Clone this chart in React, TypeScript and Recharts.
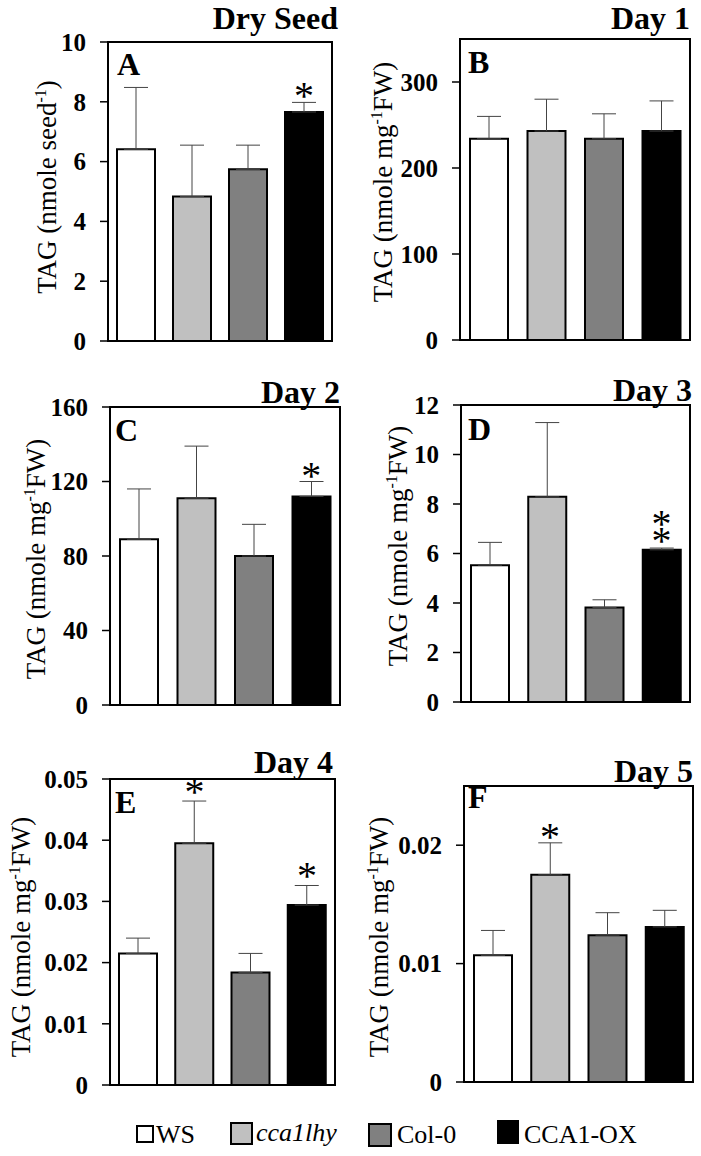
import React from "react";
import { BarChart, Bar, XAxis, YAxis, Cell, ErrorBar, ReferenceArea, ReferenceDot } from "recharts";

const FONT = "'Liberation Serif', 'Times New Roman', Times, serif";

const categories = ["WS", "cca1lhy", "Col-0", "CCA1-OX"];
const fills = ["#ffffff", "#c0c0c0", "#808080", "#000000"];

const dryMean = [6.41, 4.83, 5.74, 7.66];
const drySd = [2.07, 1.72, 0.81, 0.32];
const dryStars = [0, 0, 0, 1];
const dryTicks = [0, 2, 4, 6, 8, 10];

const day1Mean = [234, 243, 234, 243];
const day1Sd = [26, 37, 29, 35];
const day1Stars = [0, 0, 0, 0];
const day1Ticks = [0, 100, 200, 300];

const day2Mean = [89, 111, 80, 112];
const day2Sd = [27, 28, 17, 8];
const day2Stars = [0, 0, 0, 1];
const day2Ticks = [0, 40, 80, 120, 160];

const day3Mean = [5.53, 8.29, 3.82, 6.15];
const day3Sd = [0.92, 3.0, 0.31, 0.07];
const day3Stars = [0, 0, 0, 2];
const day3Ticks = [0, 2, 4, 6, 8, 10, 12];

const day4Mean = [0.0215, 0.0395, 0.0184, 0.0294];
const day4Sd = [0.0025, 0.0069, 0.0031, 0.0032];
const day4Stars = [0, 1, 0, 1];
const day4Ticks = [0, 0.01, 0.02, 0.03, 0.04, 0.05];

const day5Mean = [0.0107, 0.0175, 0.0124, 0.0131];
const day5Sd = [0.0021, 0.0027, 0.0019, 0.0014];
const day5Stars = [0, 1, 0, 0];
const day5Ticks = [0, 0.01, 0.02];

const titles = ["Dry Seed", "Day 1", "Day 2", "Day 3", "Day 4", "Day 5"];
const letters = ["A", "B", "C", "D", "E", "F"];

type Panel = {
  mean: number[]; sd: number[]; stars: number[]; ticks: number[]; max: number;
  seed: boolean;
  left: number; top: number; w: number; h: number;
  margin: { top: number; right: number; bottom: number; left: number };
  yw: number; titleX: number; titleY: number; letterX: number; letterY: number;
  labelX: number; labelY: number; starGap: number;
};

const panels: Panel[] = [
  { mean: dryMean, sd: drySd, stars: dryStars, ticks: dryTicks, max: 10, seed: true,
    left: 0, top: 0, w: 350, h: 360, margin: { top: 42, right: 18, bottom: 19, left: 0 }, yw: 108,
    titleX: 338, titleY: 29, letterX: 117, letterY: 75, labelX: 56, labelY: 187, starGap: -7 },
  { mean: day1Mean, sd: day1Sd, stars: day1Stars, ticks: day1Ticks, max: 350, seed: false,
    left: 350, top: 0, w: 351, h: 360, margin: { top: 39, right: 11, bottom: 20, left: 0 }, yw: 110,
    titleX: 340, titleY: 29, letterX: 118, letterY: 73, labelX: 42, labelY: 182, starGap: 0 },
  { mean: day2Mean, sd: day2Sd, stars: day2Stars, ticks: day2Ticks, max: 160, seed: false,
    left: 0, top: 360, w: 350, h: 380, margin: { top: 47, right: 10, bottom: 35, left: 0 }, yw: 110,
    titleX: 340, titleY: 43, letterX: 115, letterY: 81, labelX: 45, labelY: 199, starGap: -7 },
  { mean: day3Mean, sd: day3Sd, stars: day3Stars, ticks: day3Ticks, max: 12, seed: false,
    left: 350, top: 360, w: 351, h: 380, margin: { top: 45, right: 11, bottom: 38, left: 0 }, yw: 111,
    titleX: 342, titleY: 41, letterX: 118, letterY: 80, labelX: 57, labelY: 186, starGap: -6 },
  { mean: day4Mean, sd: day4Sd, stars: day4Stars, ticks: day4Ticks, max: 0.05, seed: false,
    left: 0, top: 740, w: 350, h: 380, margin: { top: 39, right: 15, bottom: 35, left: 0 }, yw: 110,
    titleX: 333, titleY: 33, letterX: 115, letterY: 73, labelX: 30, labelY: 197, starGap: -4 },
  { mean: day5Mean, sd: day5Sd, stars: day5Stars, ticks: day5Ticks, max: 0.025, seed: false,
    left: 350, top: 740, w: 351, h: 380, margin: { top: 46, right: 8, bottom: 38, left: 0 }, yw: 114,
    titleX: 343, titleY: 42, letterX: 118, letterY: 68, labelX: 38, labelY: 197, starGap: -7 },
];

const StarMark = (props: any) => {
  const vb = props.viewBox || {};
  const cx = (vb.x ?? 0) + (vb.width ?? 0) / 2;
  const cy = (vb.y ?? 0) + (vb.height ?? 0) / 2;
  const gap = props.gap || 0;
  const level = props.level || 0;
  return (
    <text x={cx} y={cy - gap - level * 17} textAnchor="middle" fontFamily={FONT} fontSize={40} fill="#000">*</text>
  );
};

function PanelChart({ p, idx }: { p: Panel; idx: number }) {
  const data = categories.map((c, i) => ({ name: c, v: p.mean[i], err: [0, p.sd[i]] }));
  const starDots: React.ReactNode[] = [];
  p.stars.forEach((s, i) => {
    for (let k = 0; k < s; k++) {
      starDots.push(
        <ReferenceDot
          key={"s" + i + "-" + k}
          x={categories[i]}
          y={p.mean[i] + p.sd[i]}
          r={1}
          fill="none"
          stroke="none"
          label={<StarMark gap={p.starGap} level={k} />}
        />
      );
    }
  });
  return (
    <div style={{ position: "absolute", left: p.left, top: p.top, width: p.w, height: p.h, fontFamily: FONT }}>
      <BarChart width={p.w} height={p.h} data={data} margin={p.margin}>
        <XAxis dataKey="name" hide />
        <YAxis
          width={p.yw}
          domain={[0, p.max]}
          ticks={p.ticks}
          interval={0}
          axisLine={false}
          tickLine={{ stroke: "#000", strokeWidth: 1.5 }}
          tickSize={8}
          tickMargin={14}
          allowDataOverflow
          tick={{ fontSize: 25, fontWeight: "bold", fill: "#000", fontFamily: FONT }}
        />
        <Bar dataKey="v" barSize={38} stroke="#000" strokeWidth={2} isAnimationActive={false}>
          {data.map((d, i) => (
            <Cell key={d.name} fill={fills[i]} />
          ))}
          <ErrorBar dataKey="err" width={12} stroke="#444" strokeWidth={1} direction="y" isAnimationActive={false} />
        </Bar>
        <ReferenceArea y1={0} y2={p.max} fill="none" stroke="#000" strokeWidth={2} fillOpacity={0} />
        {starDots}
      </BarChart>
      <svg width={p.w} height={p.h} style={{ position: "absolute", left: 0, top: 0, pointerEvents: "none" }}>
        <text x={p.titleX} y={p.titleY} textAnchor="end" fontFamily={FONT} fontWeight="bold" fontSize={32} fill="#000">
          {titles[idx]}
        </text>
        <text x={p.letterX} y={p.letterY} fontFamily={FONT} fontWeight="bold" fontSize={32} fill="#000">
          {letters[idx]}
        </text>
        <text
          x={p.labelX}
          y={p.labelY}
          transform={`rotate(-90, ${p.labelX}, ${p.labelY})`}
          textAnchor="middle"
          fontFamily={FONT}
          fontSize={27}
          fill="#000"
        >
          {p.seed ? (
            <>
              <tspan>TAG (nmole seed</tspan>
              <tspan fontSize={16} dy={-10}>-1</tspan>
              <tspan dy={10}>)</tspan>
            </>
          ) : (
            <>
              <tspan>TAG (nmole mg</tspan>
              <tspan fontSize={16} dy={-10}>-1</tspan>
              <tspan dy={10}>FW)</tspan>
            </>
          )}
        </text>
      </svg>
    </div>
  );
}

const legendBoxes = [
  { x: 137, y: 1126, w: 16, h: 16 },
  { x: 231, y: 1123, w: 21, h: 21 },
  { x: 369, y: 1124, w: 22, h: 22 },
  { x: 498, y: 1121, w: 20, h: 22 },
];
const legendText = [
  { x: 156, y: 1143 },
  { x: 256, y: 1141 },
  { x: 397, y: 1143 },
  { x: 524, y: 1143 },
];

function Legend() {
  return (
    <svg width={701} height={1156} style={{ position: "absolute", left: 0, top: 0, pointerEvents: "none" }}>
      {categories.map((c, i) => (
        <g key={c}>
          <rect x={legendBoxes[i].x} y={legendBoxes[i].y} width={legendBoxes[i].w} height={legendBoxes[i].h}
            fill={fills[i]} stroke="#000" strokeWidth={2} />
          <text x={legendText[i].x} y={legendText[i].y} fontFamily={FONT} fontSize={26}
            fontStyle={i === 1 ? "italic" : "normal"} fill="#000">{c}</text>
        </g>
      ))}
    </svg>
  );
}

export default function App() {
  return (
    <div style={{ position: "absolute", left: 0, top: 0, width: 701, height: 1156, background: "#fff", overflow: "hidden", fontFamily: FONT }}>
      {panels.map((p, i) => (
        <PanelChart key={i} p={p} idx={i} />
      ))}
      <Legend />
    </div>
  );
}
